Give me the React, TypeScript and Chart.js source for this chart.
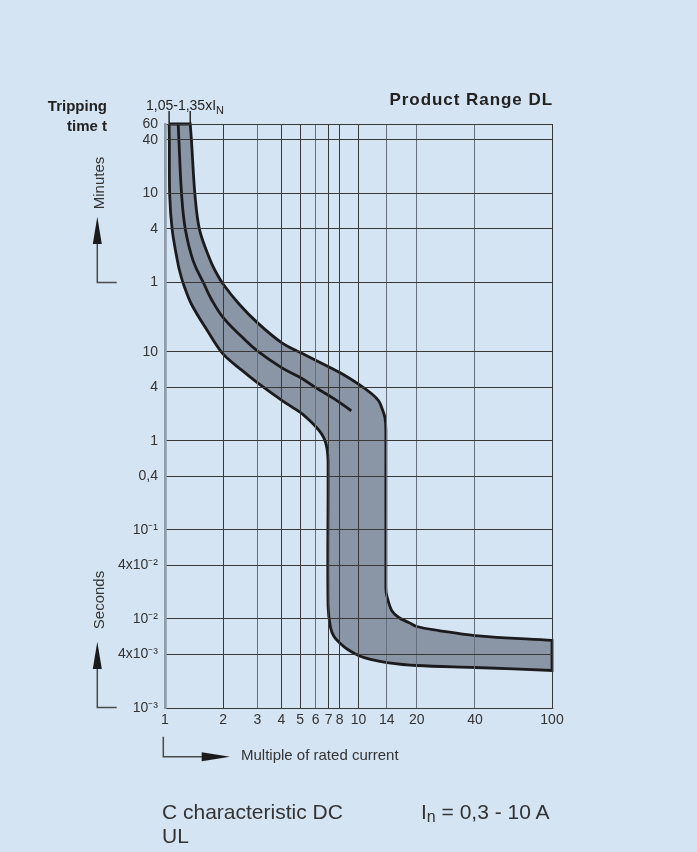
import React, { useEffect, useRef } from "react";
import { Chart, registerables } from "chart.js";

Chart.register(...registerables);

// Axis ticks (x: multiple of rated current, y: tripping time in seconds)
const X_TICKS = [1, 2, 3, 4, 5, 6, 7, 8, 10, 14, 20, 40, 100];
const Y_TICKS = [0.001, 0.004, 0.01, 0.04, 0.1, 0.4, 1, 4, 10, 60, 240, 600, 2400, 3600];
const Y_TICK_LABELS = ["10⁻³", "4x10⁻³", "10⁻²", "4x10⁻²", "10⁻¹", "0,4", "1", "4", "10", "1", "4", "10", "40", "60"];

// Lower (fast) boundary of the tripping band
const LOWER_X = [1.05, 1.053, 1.058, 1.09, 1.16, 1.19, 1.25, 1.37, 1.66, 2.0, 2.52, 3.0, 4.05, 5.0, 5.59, 6.07, 6.45, 6.72, 6.88, 6.96, 6.96, 7.17, 7.47, 8.05, 8.8, 10, 11.55, 14, 20, 40, 100];
const LOWER_Y = [3600, 2350, 558, 232, 104, 80.5, 56.1, 34.1, 17.1, 9.38, 6.09, 4.5, 2.81, 2.08, 1.69, 1.41, 1.19, 0.995, 0.809, 0.597, 0.0141, 0.008, 0.00635, 0.0053, 0.00454, 0.00389, 0.00351, 0.00324, 0.003, 0.00285, 0.00264];

// Upper (slow) boundary of the tripping band
const UPPER_X = [1.35, 1.37, 1.43, 1.51, 1.72, 1.82, 2.0, 2.42, 3.0, 4.0, 5.0, 6.0, 8.0, 10, 11.7, 12.7, 13.2, 13.7, 13.85, 13.85, 14.0, 14.86, 16.15, 18.2, 20, 26, 40, 100];
const UPPER_Y = [3600, 2350, 558, 232, 104, 80.5, 57.1, 34.1, 21.2, 12.65, 9.77, 8.03, 5.83, 4.32, 3.37, 2.81, 2.34, 1.81, 1.3, 0.0227, 0.0183, 0.0124, 0.01037, 0.00912, 0.00822, 0.00741, 0.00651, 0.00573];

// Middle curve inside the band
const MIDDLE_X = [1.17, 1.18, 1.22, 1.276, 1.4, 1.6, 1.72, 2.0, 2.52, 3.0, 4.0, 5.0, 6.0, 7.53, 9.18];
const MIDDLE_Y = [3600, 2350, 558, 232, 104, 56.1, 40.4, 24.1, 14.4, 10.2, 6.63, 5.13, 3.96, 2.93, 2.17];

// Range marks for 1,05-1,35 x IN
const RANGE_MARKS = [1.05, 1.35];

const FONT = '"Liberation Sans", Arial, Helvetica, sans-serif';
const LIGHT_X_GRID = [3, 6, 14, 20, 40];

export default function App() {
  const ref = useRef<HTMLCanvasElement>(null);

  useEffect(() => {
    if (!ref.current) return;
    const lower = LOWER_X.map((x, i) => ({ x, y: LOWER_Y[i] }));
    const upper = UPPER_X.map((x, i) => ({ x, y: UPPER_Y[i] }));
    const upperRev = upper.slice().reverse();
    const L0 = lower[0];
    const Lend = lower[lower.length - 1];
    const U0 = upper[0];
    const Uend = upper[upper.length - 1];
    // corner points doubled so the spline keeps the corners sharp
    const band = [L0, ...lower, Lend, Uend, ...upperRev, U0, L0, L0];
    const middle = MIDDLE_X.map((x, i) => ({ x, y: MIDDLE_Y[i] }));

    const rangePlugin = {
      id: "rangeMarks",
      afterDraw(chart: any) {
        const { ctx, chartArea, scales } = chart;
        ctx.save();
        ctx.strokeStyle = "#1b1b1e";
        ctx.lineWidth = 1.4;
        RANGE_MARKS.forEach((v) => {
          const px = scales.x.getPixelForValue(v);
          ctx.beginPath();
          ctx.moveTo(px, chartArea.top - 13);
          ctx.lineTo(px, chartArea.top);
          ctx.stroke();
        });
        ctx.restore();
      },
    };

    const chart = new Chart(ref.current, {
      type: "line",
      data: {
        datasets: [
          {
            data: middle,
            fill: false,
            borderColor: "#1b1b1e",
            borderWidth: 2.8,
            pointRadius: 0,
            tension: 0.4,
            clip: 6,
            order: 0,
          } as any,
          {
            data: band,
            fill: "shape",
            backgroundColor: "#8a96a5",
            borderColor: "#1b1b1e",
            borderWidth: 2.8,
            pointRadius: 0,
            tension: 0.35,
            clip: 6,
            order: 1,
          } as any,
        ],
      },
      options: {
        animation: false,
        responsive: false,
        events: [],
        layout: { padding: { left: 0, right: 145, top: 124, bottom: 114 } },
        plugins: { legend: { display: false }, tooltip: { enabled: false } },
        scales: {
          x: {
            type: "logarithmic",
            min: 1,
            max: 100,
            afterBuildTicks: (s: any) => {
              s.ticks = X_TICKS.map((v) => ({ value: v }));
            },
            afterFit: (s: any) => {
              s.height = 30;
            },
            ticks: {
              autoSkip: false,
              maxRotation: 0,
              padding: 4,
              color: "#333",
              font: { family: FONT, size: 14 },
              callback: (v: any) => String(v),
            },
            grid: {
              z: 1,
              drawTicks: false,
              color: (c: any) =>
                c.tick && c.tick.value === 1 ? "#8f9cab" : c.tick && LIGHT_X_GRID.includes(c.tick.value) ? "#66717d" : "#383838",
              lineWidth: (c: any) => (c.tick && c.tick.value === 1 ? 2.5 : 1),
            },
            border: { z: 1, color: "#555", width: 1 },
          } as any,
          y: {
            type: "logarithmic",
            min: 0.001,
            max: 3600,
            afterBuildTicks: (s: any) => {
              s.ticks = Y_TICKS.map((v) => ({ value: v }));
            },
            afterFit: (s: any) => {
              s.width = 165;
            },
            ticks: {
              autoSkip: false,
              padding: 7,
              color: "#333",
              font: { family: FONT, size: 14 },
              callback: (v: any) => {
                const i = Y_TICKS.indexOf(Number(v));
                return i >= 0 ? Y_TICK_LABELS[i] : "";
              },
            },
            grid: { z: 1, drawTicks: false, color: "#383838", lineWidth: 1 },
            border: { z: 1, color: "#8f9cab", width: 2.5 },
          } as any,
        },
      },
      plugins: [rangePlugin],
    });
    return () => chart.destroy();
  }, []);

  const txt: React.CSSProperties = { position: "absolute", whiteSpace: "nowrap", color: "#333" };

  return (
    <div
      style={{
        position: "fixed",
        left: 0,
        top: 0,
        width: 697,
        height: 852,
        background: "#d5e4f3",
        overflow: "hidden",
        fontFamily: FONT,
        color: "#333",
      }}
    >
      <canvas ref={ref} width={697} height={852} style={{ position: "absolute", left: 0, top: 0, width: 697, height: 852 }} />

      <div style={{ ...txt, right: 590, top: 98, fontSize: 15, lineHeight: "15px", fontWeight: "bold", color: "#222", textAlign: "right" }}>Tripping</div>
      <div style={{ ...txt, right: 590, top: 118, fontSize: 15, lineHeight: "15px", fontWeight: "bold", color: "#222", textAlign: "right" }}>time t</div>

      <div style={{ ...txt, left: 146, top: 98, fontSize: 14, lineHeight: "14px", color: "#222" }}>
        1,05-1,35xI<span style={{ fontSize: 11, position: "relative", top: 4 }}>N</span>
      </div>

      <div style={{ ...txt, right: 144, top: 91, fontSize: 17, lineHeight: "17px", fontWeight: "bold", color: "#222", letterSpacing: "0.95px" }}>
        Product Range DL
      </div>

      <div style={{ ...txt, left: 98, top: 182.7, fontSize: 15, lineHeight: "15px", transform: "translate(-50%, -50%) rotate(-90deg)" }}>Minutes</div>
      <div style={{ ...txt, left: 98, top: 600, fontSize: 15, lineHeight: "15px", transform: "translate(-50%, -50%) rotate(-90deg)" }}>Seconds</div>

      <div style={{ ...txt, left: 241, top: 747.3, fontSize: 15, lineHeight: "15px" }}>Multiple of rated current</div>

      <div style={{ ...txt, left: 162, top: 799.7, fontSize: 21, lineHeight: "24px" }}>
        C characteristic DC
        <br />
        UL
      </div>
      <div style={{ ...txt, left: 421, top: 799.7, fontSize: 21, lineHeight: "24px" }}>
        I<span style={{ fontSize: 16, position: "relative", top: 3 }}>n</span> = 0,3 - 10 A
      </div>

      <svg width={697} height={852} style={{ position: "absolute", left: 0, top: 0, pointerEvents: "none" }}>
        <polyline points="116.7,282.5 97.3,282.5 97.3,243" fill="none" stroke="#4a4a4a" strokeWidth={1.5} />
        <polygon points="97.3,216.7 92.8,244 101.8,244" fill="#1a1a1a" />
        <polyline points="116.7,707.5 97.3,707.5 97.3,668" fill="none" stroke="#4a4a4a" strokeWidth={1.5} />
        <polygon points="97.3,641.7 92.8,669 101.8,669" fill="#1a1a1a" />
        <polyline points="163.3,736.7 163.3,756.7 203,756.7" fill="none" stroke="#4a4a4a" strokeWidth={1.5} />
        <polygon points="230,756.7 201.7,752.2 201.7,761.2" fill="#1a1a1a" />
      </svg>
    </div>
  );
}
